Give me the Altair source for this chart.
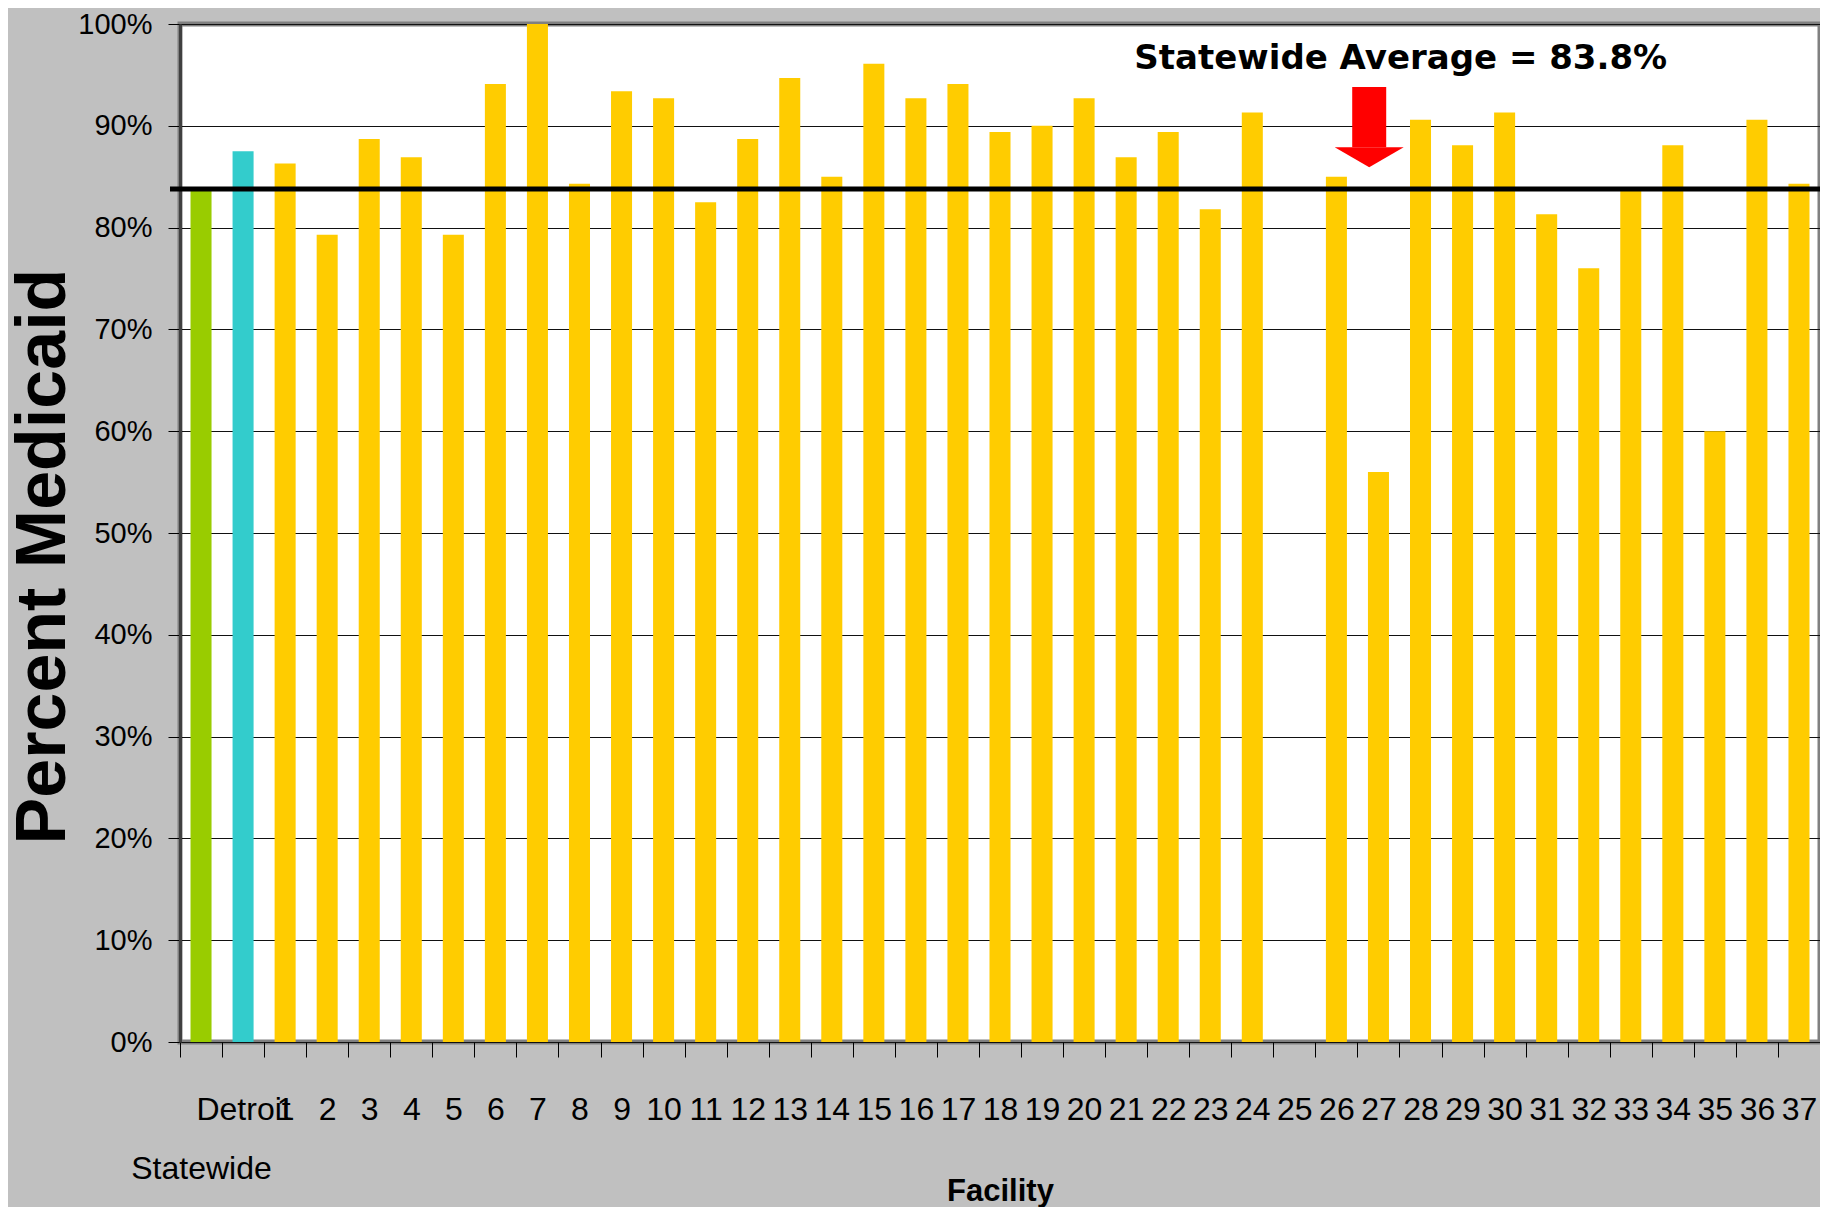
import altair as alt
import pandas as pd

categories = ["Statewide", "Detroit"] + [str(i) for i in range(1, 38)]
values = [83.8, 87.5, 86.3, 79.3, 88.7, 86.9, 79.3, 94.1, 100.0, 84.3,
          93.4, 92.7, 82.5, 88.7, 94.7, 85.0, 96.1, 92.7, 94.1, 89.4,
          90.0, 92.7, 86.9, 89.4, 81.8, 91.3, None, 85.0, 56.0, 90.6,
          88.1, 91.3, 81.3, 76.0, 83.8, 88.1, 60.0, 90.6, 84.3]
groups = ["state", "detroit"] + ["facility"] * 37
group_domain = ["state", "detroit", "facility"]
group_colors = ["#99CC00", "#33CCCC", "#FFCC00"]

statewide_avg = 83.8
annotation_text = "Statewide Average = 83.8%"
annotation_cat = ["28"]
annotation_y = [95.6]
arrow_cat = ["27"]
arrow_top = [93.8]
arrow_base = [87.9]
y_ticks = list(range(0, 101, 10))

W, H = 1640, 1018

bars_df = pd.DataFrame({"cat": categories, "value": values, "group": groups})
avg_df = pd.DataFrame({"value": [statewide_avg]})
arrow_df = pd.DataFrame({"cat": arrow_cat, "value": arrow_top, "value2": arrow_base})
head_df = pd.DataFrame({"cat": arrow_cat, "value": arrow_base})
text_df = pd.DataFrame({"cat": annotation_cat, "value": annotation_y, "label": [annotation_text]})

xscale = alt.Scale(domain=categories, paddingInner=0, paddingOuter=0)
yscale = alt.Scale(domain=[0, 100], nice=False, zero=True)

xaxis = alt.Axis(
    title="Facility", labelAngle=0, labelFont="Liberation Sans", labelFontSize=32,
    labelColor="black", labelOverlap=False, labelBound=False, labelFlush=False,
    labelPadding=37, labelLineHeight=59,
    labelExpr="datum.value == 'Statewide' ? ['', 'Statewide'] : datum.value",
    tickBand="extent", tickSize=15, tickColor="black", tickWidth=1, domain=False,
    titleFont="Liberation Sans", titleFontWeight="bold", titleFontSize=31, titleColor="black",
    titleX=W / 2, titleY=158, titleAlign="center", titleBaseline="alphabetic",
)
yaxis = alt.Axis(
    title="Percent Medicaid", values=y_ticks, labelExpr="datum.value + '%'",
    labelFont="Liberation Sans", labelFontSize=29, labelColor="black", labelPadding=16,
    labelFlush=False, tickSize=12, tickColor="black", tickWidth=1,
    grid=True, gridColor="#111111", gridWidth=1,
    domainColor="#404040", domainWidth=3,
    titleFont="Liberation Sans", titleFontWeight="bold", titleFontSize=70, titleColor="black",
    titleAngle=270, titleX=-137, titleY=532, titleAlign="center", titleBaseline="middle",
)

X = alt.X("cat:N", scale=xscale, axis=xaxis, sort=categories)
Y = alt.Y("value:Q", scale=yscale, axis=yaxis)

bars = alt.Chart(bars_df).mark_bar(width=alt.RelativeBandSize(0.5)).encode(
    x=X, y=Y,
    color=alt.Color("group:N", scale=alt.Scale(domain=group_domain, range=group_colors), legend=None),
)

avg_line = alt.Chart(avg_df).mark_rule(color="black", strokeWidth=5).encode(
    y=Y, x=alt.value(-10), x2=alt.value(W)
)

shaft = alt.Chart(arrow_df).mark_rule(color="#FF0000", strokeWidth=34).encode(
    x=alt.X("cat:N", scale=xscale, axis=xaxis, sort=categories, bandPosition=0.28),
    y=Y, y2="value2:Q",
)

head = alt.Chart(head_df).mark_point(
    shape="M-1,0L1,0L0,0.58Z", size=4761, filled=True, color="#FF0000", opacity=1, strokeWidth=0
).encode(
    x=alt.X("cat:N", scale=xscale, axis=xaxis, sort=categories, bandPosition=0.28),
    y=Y,
)

annot = alt.Chart(text_df).mark_text(
    font="DejaVu Sans", fontWeight="bold", fontSize=34, color="black",
    align="center", baseline="alphabetic"
).encode(
    x=alt.X("cat:N", scale=xscale, axis=xaxis, sort=categories, bandPosition=0.03),
    y=Y, text="label:N",
)

chart = alt.layer(bars, avg_line, shaft, head, annot).properties(
    width=W, height=H,
    autosize=alt.AutoSizeParams(type="none"),
    padding={"left": 172, "top": 16, "right": 0, "bottom": 165},
    background="#C0C0C0",
).configure_view(
    fill="white", stroke="#808080", strokeWidth=5
)

chart.save("out.html", embed_options={"renderer": "svg", "actions": False})
